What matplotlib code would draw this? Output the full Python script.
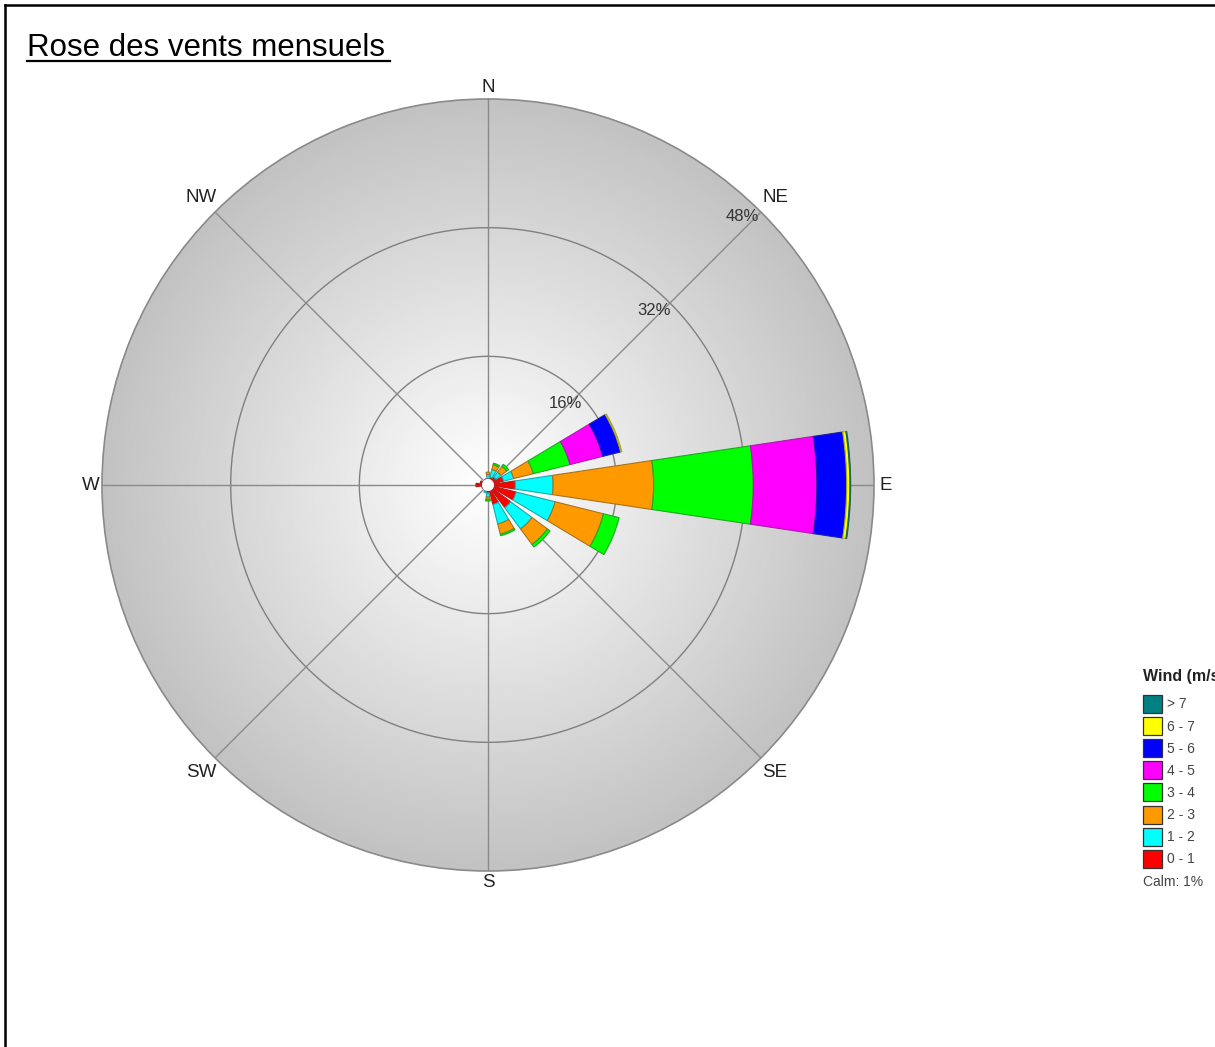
import numpy as np
import matplotlib.pyplot as plt
from matplotlib.colors import LinearSegmentedColormap, to_rgb
from matplotlib.lines import Line2D
from matplotlib.patches import Rectangle

plt.rcParams['font.family'] = ['Liberation Sans', 'DejaVu Sans']

# wind directions (clockwise from north)
directions = ['N', 'NNE', 'NE', 'ENE', 'E', 'ESE', 'SE', 'SSE',
              'S', 'SSW', 'SW', 'WSW', 'W', 'WNW', 'NW', 'NNW']

# frequency (%) per speed class and direction
speed_0_1 = [0.8, 1.0, 1.2, 2.0, 3.4, 3.6, 3.5, 2.5, 1.0, 0.8, 0.6, 0.8, 1.5, 1.0, 0.7, 0.8]
speed_1_2 = [0.5, 1.0, 0.8, 1.3, 4.7, 5.0, 3.3, 2.5, 0.5, 0.2, 0.0, 0.0, 0.0, 0.0, 0.0, 0.0]
speed_2_3 = [0.3, 0.6, 0.9, 2.5, 12.5, 6.2, 2.4, 1.3, 0.3, 0.0, 0.0, 0.0, 0.0, 0.0, 0.0, 0.0]
speed_3_4 = [0.0, 0.2, 0.3, 4.7, 12.4, 2.0, 0.4, 0.2, 0.2, 0.0, 0.0, 0.0, 0.0, 0.0, 0.0, 0.0]
speed_4_5 = [0.0, 0.0, 0.0, 4.2, 7.9, 0.0, 0.0, 0.0, 0.0, 0.0, 0.0, 0.0, 0.0, 0.0, 0.0, 0.0]
speed_5_6 = [0.0, 0.0, 0.0, 2.3, 3.7, 0.0, 0.0, 0.0, 0.0, 0.0, 0.0, 0.0, 0.0, 0.0, 0.0, 0.0]
speed_6_7 = [0.0, 0.0, 0.0, 0.15, 0.4, 0.0, 0.0, 0.0, 0.0, 0.0, 0.0, 0.0, 0.0, 0.0, 0.0, 0.0]
speed_7_up = [0.0, 0.0, 0.0, 0.0, 0.1, 0.0, 0.0, 0.0, 0.0, 0.0, 0.0, 0.0, 0.0, 0.0, 0.0, 0.0]

speed_labels = ['0 - 1', '1 - 2', '2 - 3', '3 - 4', '4 - 5', '5 - 6', '6 - 7', '> 7']
speed_colors = ['#ff0000', '#00ffff', '#ff9900', '#00ff00', '#ff00ff', '#0000ff', '#ffff00', '#008080']
speed_data = [speed_0_1, speed_1_2, speed_2_3, speed_3_4, speed_4_5, speed_5_6, speed_6_7, speed_7_up]

rings = [16, 32, 48]
calm = 1

W, H = 1215, 1047
fig = plt.figure(figsize=(W / 100, H / 100), dpi=100)

def fx(px):
    return px / W

def fy(py):
    return 1 - py / H

# page frame (left and top edges)
fig.add_artist(Line2D([fx(5), fx(5)], [0, fy(5)], color='black', lw=1.8))
fig.add_artist(Line2D([fx(5), 1], [fy(5), fy(5)], color='black', lw=1.8))

# underlined title
fig.text(fx(27), fy(56), 'Rose des vents mensuels', fontsize=22.5, color='black', va='baseline')
fig.add_artist(Line2D([fx(27), fx(390)], [fy(61), fy(61)], color='black', lw=1.6))

cx, cy, R = 488, 485, 386
ax = fig.add_axes([fx(cx - R), fy(cy + R), 2 * R / W, 2 * R / H], projection='polar')
ax.set_theta_zero_location('N')
ax.set_theta_direction(-1)
rmax = rings[-1]
ax.set_ylim(0, rmax)
ax.grid(False)
ax.set_xticks([])
ax.set_yticks([])
ax.spines['polar'].set_color('#8a8a8a')
ax.spines['polar'].set_linewidth(1.2)

# radial grey shading
bg = LinearSegmentedColormap.from_list('bg', ['#ffffff', '#c2c2c2'])
th = np.linspace(0, 2 * np.pi, 181)
rr = np.linspace(0, rmax, 120)
T, Rg = np.meshgrid(th, rr)
ax.pcolormesh(T, Rg, Rg[:-1, :-1] / rmax, cmap=bg, shading='flat', zorder=0, rasterized=True)

# rings and spokes
circ = np.linspace(0, 2 * np.pi, 361)
for r in rings[:-1]:
    ax.plot(circ, np.full_like(circ, r), color='#808080', lw=1.0, zorder=1)
for k in range(8):
    a = np.deg2rad(45 * k)
    ax.plot([a, a], [0, rmax], color='#8a8a8a', lw=1.0, zorder=1)

# stacked wind bars
angles = np.deg2rad(np.arange(16) * 22.5)
width = np.deg2rad(17)
bottom = np.zeros(16)
for vals, col in zip(speed_data, speed_colors):
    vals = np.array(vals)
    edge = tuple(0.55 * c + 0.45 * 0.25 for c in to_rgb(col))
    mask = vals > 0
    ax.bar(angles[mask], vals[mask], width=width, bottom=bottom[mask],
           color=col, edgecolor=edge, linewidth=0.8, zorder=3)
    bottom += vals

# calm circle
ax.bar(0, 0.75, width=2 * np.pi, bottom=0, color='white', edgecolor='none', zorder=4)

# compass labels, just outside the rim
for k, name in enumerate(['N', 'NE', 'E', 'SE', 'S', 'SW', 'W', 'NW']):
    rlab = 49.4 if k % 2 == 0 else 50.5
    ax.text(np.deg2rad(45 * k), rlab, name, fontsize=13.5, color='#222222',
            ha='center', va='center', clip_on=False)

# ring labels
for r in rings:
    ax.text(np.deg2rad(43.5), r - 2.0, f'{r}%', fontsize=12, color='#333333',
            ha='center', va='center', zorder=5)

# legend (runs off the right edge of the page)
fig.text(fx(1143), fy(676), 'Wind (m/s)', fontsize=11.5, fontweight='bold',
         color='#222222', va='center')
for i, (lab, col) in enumerate(zip(speed_labels[::-1], speed_colors[::-1])):
    top = 695 + i * 22.1
    fig.add_artist(Rectangle((fx(1143), fy(top + 18)), 19 / W, 18 / H,
                             facecolor=col, edgecolor='#333333', lw=0.9))
    fig.text(fx(1167), fy(top + 9.5), lab, fontsize=10, color='#444444', va='center')
fig.text(fx(1143), fy(882), f'Calm: {calm}%', fontsize=10, color='#444444', va='center')

fig.savefig('out.png', dpi=100, facecolor='white')
